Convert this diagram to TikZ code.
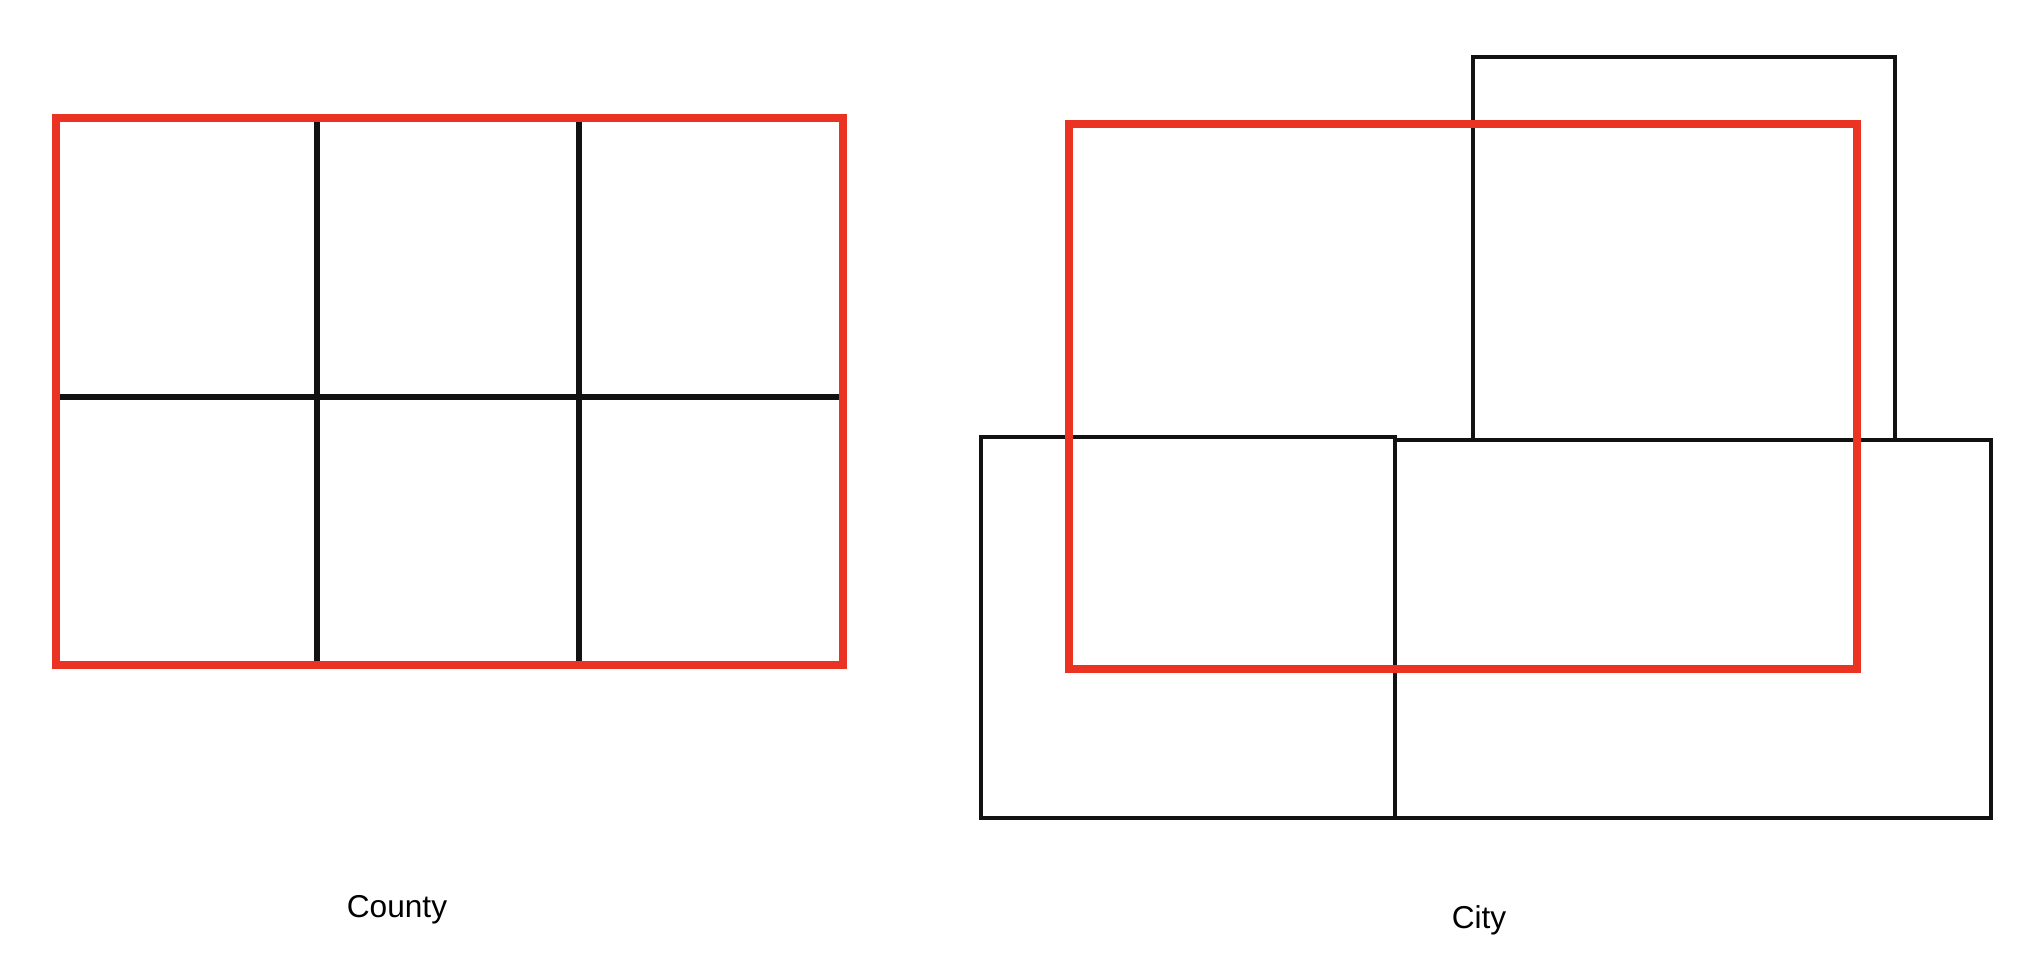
\documentclass[tikz,border=0pt]{standalone}
\usepackage{fontspec}
\setmainfont{Liberation Sans}
\usepackage{tikz}

\definecolor{boxred}{RGB}{234,51,35}
\definecolor{inkblack}{RGB}{18,18,18}

\tikzset{
	redbox/.style={draw=boxred, line width=4.5pt},
	gridline/.style={draw=inkblack, line width=3.5pt},
	areabox/.style={draw=inkblack, line width=2.8pt},
	maplabel/.style={anchor=base, font=\fontsize{18}{20}\selectfont}
}

\begin{document}
\begin{tikzpicture}[x=0.02cm, y=-0.02cm]
	\useasboundingbox (0,0) rectangle (2026,979);
	% county
	\draw[gridline] (317,118) -- (317,665);
	\draw[gridline] (579,118) -- (579,665);
	\draw[gridline] (56,397) -- (843,397);
	\draw[redbox] (56,118) rectangle (843,665);
	\node[maplabel] (county) at (397,917) {County};
	% city
	\draw[areabox] (1473,57) rectangle (1895,440);
	\draw[areabox] (981,437) rectangle (1395,818);
	\draw[areabox] (1395,440) rectangle (1991,818);
	\draw[redbox] (1069,124) rectangle (1857,669);
	\node[maplabel] (city) at (1479,928) {City};
\end{tikzpicture}
\end{document}
